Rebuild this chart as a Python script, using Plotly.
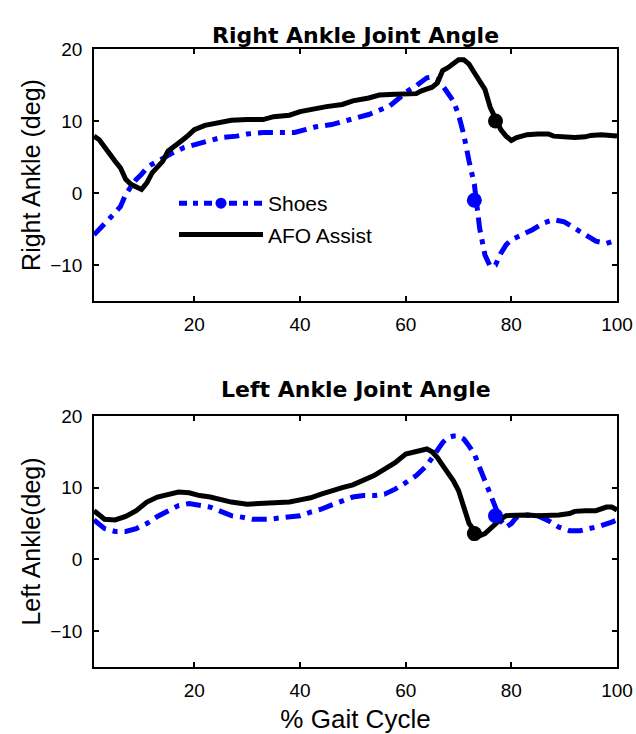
import plotly.graph_objects as go
from plotly.subplots import make_subplots

# ---------------- data ----------------
r_afo_x = [1, 2, 3, 4, 5, 6, 7, 8, 9, 10, 11, 12, 13, 14, 15, 16, 17, 18, 19, 20, 22, 25, 27, 30, 33, 35, 38, 40,
           42, 45, 48, 50, 53, 55, 58, 60, 62, 63, 65, 66, 67, 68, 69, 70, 71, 72, 73, 74, 75, 76, 77, 78, 79,
           80, 81, 83, 85, 87, 88, 90, 92, 94, 95, 97, 98, 100]
r_afo_y = [7.9, 7.4, 6.4, 5.3, 4.4, 3.5, 1.9, 1.2, 0.8, 0.5, 1.4, 2.8, 3.6, 4.4, 5.8, 6.3, 7.0, 7.5, 8.1, 8.8, 9.4,
           9.9, 10.1, 10.2, 10.2, 10.6, 10.8, 11.3, 11.6, 12.0, 12.3, 12.8, 13.2, 13.6, 13.7, 13.7, 13.8, 14.2,
           14.7, 15.3, 17.0, 17.4, 17.9, 18.5, 18.5, 17.9, 16.7, 15.6, 14.4, 11.9, 10.2, 8.8, 7.9, 7.3, 7.7,
           8.1, 8.2, 8.2, 7.9, 7.8, 7.7, 7.8, 8.0, 8.1, 8.0, 7.9]

r_shoe_x = [1, 2, 4, 6, 7, 8, 9, 10, 11, 12, 14, 16, 18, 20, 22, 25, 28, 30, 33, 36, 39, 41, 43, 46, 48, 50,
            53, 55, 57, 59, 60, 62, 64, 65, 66, 67, 68, 69, 70, 71, 72, 73, 74, 75, 76, 77, 78, 79, 80, 82,
            84, 86, 88, 90, 92, 94, 96, 98, 100]
r_shoe_y = [-5.8, -5.1, -3.5, -1.9, -0.2, 0.9, 1.9, 2.6, 3.5, 4.0, 4.9, 5.6, 6.3, 6.7, 7.2, 7.7, 7.9, 8.2, 8.4,
            8.4, 8.4, 8.8, 9.2, 9.5, 9.9, 10.2, 10.9, 11.5, 12.1, 13.3, 14.0, 14.9, 16.0, 16.1, 15.8, 14.9,
            13.7, 12.8, 10.9, 8.1, 4.4, 1.2, -4.9, -8.6, -10.2, -10.0, -8.4, -7.2, -6.5, -5.8, -5.1, -4.2,
            -3.7, -4.0, -4.9, -5.8, -6.7, -7.0, -6.5]

l_afo_x = [1, 2, 3, 5, 7, 9, 11, 13, 15, 17, 19, 21, 23, 25, 27, 30, 33, 36, 38, 40, 42, 44, 46, 48, 50, 52,
           54, 56, 58, 60, 62, 64, 65, 66, 67, 69, 70, 71, 72, 73, 74, 75, 76, 77, 78, 79, 81, 83, 85, 87,
           89, 91, 92, 94, 96, 98, 99, 100]
l_afo_y = [6.8, 6.3, 5.6, 5.5, 6.0, 6.8, 8.0, 8.7, 9.1, 9.4, 9.3, 8.9, 8.7, 8.3, 8.0, 7.7, 7.8, 8.0, 8.0, 8.3,
           8.6, 9.1, 9.6, 10.0, 10.4, 11.0, 11.7, 12.6, 13.5, 14.7, 15.1, 15.4, 15.0, 14.2, 13.1, 11.0, 9.6,
           7.3, 5.0, 4.0, 3.3, 3.6, 4.3, 5.0, 5.6, 6.1, 6.2, 6.2, 6.1, 6.1, 6.2, 6.4, 6.7, 6.8, 6.8, 7.3,
           7.3, 6.9]

l_shoe_x = [1, 2, 3, 5, 7, 9, 11, 13, 15, 17, 19, 21, 23, 25, 27, 29, 31, 34, 37, 40, 42, 44, 46, 48, 50, 52,
            54, 56, 58, 60, 62, 64, 65, 66, 67, 68, 69, 70, 71, 72, 73, 74, 75, 76, 77, 78, 79, 80, 81, 83,
            85, 87, 89, 91, 93, 95, 97, 99, 100]
l_shoe_y = [5.5, 5.0, 4.3, 3.9, 3.9, 4.3, 5.0, 6.0, 6.8, 7.5, 7.8, 7.6, 7.3, 6.7, 6.1, 5.9, 5.6, 5.6, 5.8, 6.1,
            6.6, 7.0, 7.6, 8.2, 8.7, 8.9, 8.9, 9.1, 9.8, 10.7, 11.7, 13.1, 14.2, 15.4, 16.3, 17.0, 17.2,
            17.2, 16.8, 15.8, 14.7, 12.8, 11.0, 9.1, 7.3, 5.4, 4.5, 5.0, 5.9, 6.2, 6.1, 5.4, 4.5, 4.0, 4.0,
            4.3, 4.7, 5.2, 5.5]

# gait events (x %, angle deg)
r_shoe_event = (73, -1.0)
r_afo_event = (77, 10.0)
l_afo_event = (73, 3.6)
l_shoe_event = (77, 6.1)

series_names = ["Shoes", "AFO Assist"]
x_ticks = [20, 40, 60, 80, 100]
y_ticks = [-10, 0, 10, 20]
titles = ["Right Ankle Joint Angle", "Left Ankle Joint Angle"]
y_titles = ["Right Ankle (deg)", "Left Ankle(deg)"]
x_title = "% Gait Cycle"

# ---------------- styles ----------------
BLUE = "#0000ff"
BLACK = "#000000"
DASH = "15px,7px,5px,7px"
FONT = "Liberation Sans, Arial, sans-serif"
TFONT = "DejaVu Sans, sans-serif"

W, H = 636, 734
ML, MR, MT, MB = 94, 19, 49, 67
PH = H - MT - MB

fig = make_subplots(rows=2, cols=1)

def add_panel(row, shoe_x, shoe_y, afo_x, afo_y, shoe_ev, afo_ev):
    fig.add_trace(go.Scatter(x=shoe_x, y=shoe_y, mode="lines", showlegend=False,
                             line=dict(color=BLUE, width=5, dash=DASH)), row=row, col=1)
    fig.add_trace(go.Scatter(x=afo_x, y=afo_y, mode="lines", showlegend=False,
                             line=dict(color=BLACK, width=5)), row=row, col=1)
    fig.add_trace(go.Scatter(x=[afo_ev[0]], y=[afo_ev[1]], mode="markers", showlegend=False,
                             marker=dict(color=BLACK, size=15)), row=row, col=1)
    fig.add_trace(go.Scatter(x=[shoe_ev[0]], y=[shoe_ev[1]], mode="markers", showlegend=False,
                             marker=dict(color=BLUE, size=15)), row=row, col=1)

add_panel(1, r_shoe_x, r_shoe_y, r_afo_x, r_afo_y, r_shoe_event, r_afo_event)
add_panel(2, l_shoe_x, l_shoe_y, l_afo_x, l_afo_y, l_shoe_event, l_afo_event)

# legend entries
fig.add_trace(go.Scatter(x=[None], y=[None], mode="lines+markers", name=series_names[0], legendgroup="a",
                         line=dict(color=BLUE, width=5, dash="8px,6px,5px,6px"), marker=dict(color=BLUE, size=11)),
              row=1, col=1)
fig.add_trace(go.Scatter(x=[None], y=[None], mode="lines", name=series_names[1], legendgroup="b",
                         line=dict(color=BLACK, width=5)), row=1, col=1)

axis_common = dict(showline=True, linecolor="black", linewidth=1.5, mirror="ticks", ticks="inside",
                   ticklen=5, tickcolor="black", tickwidth=1.5, showgrid=False, zeroline=False,
                   automargin=False,
                   tickfont=dict(family=FONT, size=19, color="black"))
domains = [[1 - (301 - MT) / PH, 1.0], [0.0, (H - MB - 416) / PH]]
for r in (1, 2):
    fig.update_xaxes(range=[1, 100], tickvals=x_ticks, ticklabelstandoff=5, **axis_common, row=r, col=1)
    fig.update_yaxes(range=[-15, 20], tickvals=y_ticks, ticklabelstandoff=6, domain=domains[r - 1],
                     **axis_common, row=r, col=1,
                     title=dict(text=y_titles[r - 1], font=dict(family=FONT, size=25, color="black"),
                                standoff=2))
fig.update_xaxes(title=dict(text=x_title, font=dict(family=FONT, size=26, color="black"), standoff=12),
                 row=2, col=1)

fig.update_layout(
    width=W, height=H,
    margin=dict(l=ML, r=MR, t=MT, b=MB, autoexpand=False),
    paper_bgcolor="white", plot_bgcolor="white",
    font=dict(family=FONT, color="black"),
    showlegend=True,
    legend=dict(x=(174 - ML) / (W - ML - MR), y=1 - (183 - MT) / PH, xref="paper", yref="paper",
                xanchor="left", yanchor="top", bgcolor="rgba(0,0,0,0)",
                font=dict(family=FONT, size=21, color="black"),
                itemwidth=84, tracegroupgap=1),
    annotations=[
        dict(text="<b>" + titles[0] + "</b>", x=0.5, y=1 + (MT - 21) / PH, xref="paper", yref="paper",
             showarrow=False, font=dict(family=TFONT, size=22, color="black")),
        dict(text="<b>" + titles[1] + "</b>", x=0.5, y=1 + (MT - 389) / PH, xref="paper", yref="paper",
             showarrow=False, font=dict(family=TFONT, size=22, color="black")),
    ],
)

fig.write_html("out.html")
